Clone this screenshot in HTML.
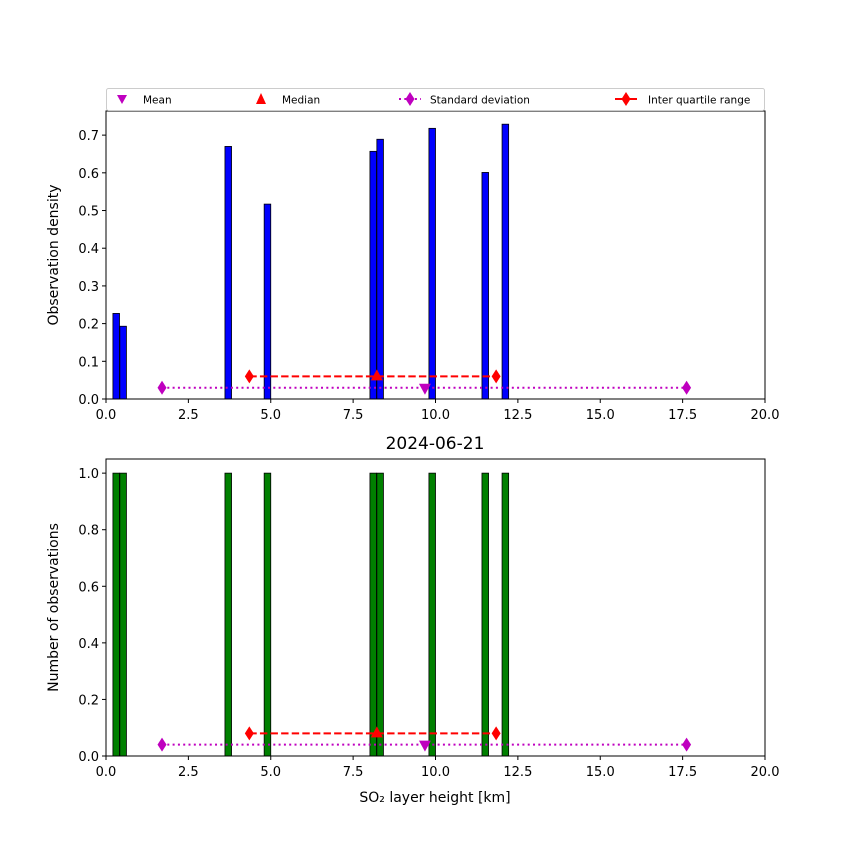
<!DOCTYPE html>
<html><head><meta charset="utf-8"><style>
body{margin:0;background:#fff}
svg text{font-family:"DejaVu Sans","Liberation Sans",sans-serif;fill:#000}
</style></head><body>
<svg id="c" width="850" height="850" xmlns="http://www.w3.org/2000/svg"></svg>
<script>
const binLefts=[0.21,0.42,3.61,4.80,8.01,8.22,9.80,11.41,12.02];
const binWidth=0.2;
const densityValues=[0.227,0.193,0.670,0.517,0.657,0.689,0.718,0.601,0.729];
const countValues=[1,1,1,1,1,1,1,1,1];
const xTicks=[0,2.5,5,7.5,10,12.5,15,17.5,20];
const topYTicks=[0,0.1,0.2,0.3,0.4,0.5,0.6,0.7];
const botYTicks=[0,0.2,0.4,0.6,0.8,1.0];
const meanX=9.68, medianX=8.22;
const stdX=[1.70,17.62];
const iqrX=[4.35,11.84];
const topStatY={mean:0.03,std:0.03,median:0.06,iqr:0.06};
const botStatY={mean:0.04,std:0.04,median:0.08,iqr:0.08};

const svg=document.getElementById('c');
const NS='http://www.w3.org/2000/svg';
function mk(tag,attrs,parent){const e=document.createElementNS(NS,tag);for(const k in attrs)e.setAttribute(k,attrs[k]);(parent||svg).appendChild(e);return e;}
const X0=106,X1=765;
const sx=v=>X0+(v/20)*(X1-X0);

function panel(name,top,bottom,ymax,ticks,vals,color,st,ylabel){
  const g=mk('g',{});
  
  
  const sy=v=>bottom-(v/ymax)*(bottom-top);
  vals.forEach((v,i)=>{
    const r=mk('rect',{x:sx(binLefts[i]),y:sy(v),width:sx(binLefts[i]+binWidth)-sx(binLefts[i]),height:bottom-sy(v),fill:color,stroke:'#000','stroke-width':0.8},g);
    
    
  });
  // std line
  const sl=mk('line',{x1:sx(stdX[0]),x2:sx(stdX[1]),y1:sy(st.std),y2:sy(st.std),stroke:'#bf00bf','stroke-width':2,'stroke-dasharray':'2,3.3'},g);
  
  
  const il=mk('line',{x1:sx(iqrX[0]),x2:sx(iqrX[1]),y1:sy(st.iqr),y2:sy(st.iqr),stroke:'#ff0000','stroke-width':2,'stroke-dasharray':'7.4,3.2'},g);
  
  
  const dia=(x,y,c,n)=>{const p=mk('polygon',{points:`${x},${y-7} ${x+4.5},${y} ${x},${y+7} ${x-4.5},${y}`,fill:c},g);
    
    };
  stdX.forEach((v,i)=>dia(sx(v),sy(st.std),'#bf00bf','std-marker-'+i));
  iqrX.forEach((v,i)=>dia(sx(v),sy(st.iqr),'#ff0000','iqr-marker-'+i));
  let mx=sx(medianX),my=sy(st.median);
  const md=mk('polygon',{points:`${mx},${my-7} ${mx+6},${my+4} ${mx-6},${my+4}`,fill:'#ff0000'},g);
  
  
  mx=sx(meanX);my=sy(st.mean);
  const mn=mk('polygon',{points:`${mx},${my+7} ${mx+6},${my-4} ${mx-6},${my-4}`,fill:'#bf00bf'},g);
  
  
  const fr=mk('rect',{x:X0,y:top,width:X1-X0,height:bottom-top,fill:'none',stroke:'#000','stroke-width':1},g);
  
  
  xTicks.forEach(t=>{
    mk('line',{x1:sx(t),x2:sx(t),y1:bottom,y2:bottom+4,stroke:'#000'},g);
    const tx=mk('text',{x:sx(t),y:bottom+20,'text-anchor':'middle','font-size':13},g);
    tx.textContent=t.toFixed(1);
    
    
  });
  ticks.forEach(t=>{
    mk('line',{x1:X0-4,x2:X0,y1:sy(t),y2:sy(t),stroke:'#000'},g);
    const tx=mk('text',{x:X0-7,y:sy(t)+5,'text-anchor':'end','font-size':13},g);
    tx.textContent=t.toFixed(1);
    
    
  });
  const yl=mk('text',{x:0,y:0,'text-anchor':'middle','font-size':14,transform:`translate(58,${(top+bottom)/2}) rotate(-90)`},g);
  yl.textContent=ylabel;
  
  
}
panel('density-panel',111,399,0.764,topYTicks,densityValues,'#0000ff',topStatY,'Observation density');
panel('count-panel',459,756,1.05,botYTicks,countValues,'#008000',botStatY,'Number of observations');

const title=mk('text',{x:435,y:449,'text-anchor':'middle','font-size':17});
title.textContent='2024-06-21';


const xl=mk('text',{x:435,y:802,'text-anchor':'middle','font-size':14});
xl.textContent='SO₂ layer height [km]';



// legend
const lg=mk('g',{});


mk('rect',{x:106.5,y:88.5,width:658,height:22,fill:'#fff',stroke:'#ccc','stroke-width':1,rx:2},lg);
function ltext(x,s,n){const t=mk('text',{x:x,y:103.5,'font-size':10.5},lg);t.textContent=s;
  
  }
mk('polygon',{points:'117,95 127,95 122,104',fill:'#bf00bf'},lg);
ltext(143,'Mean','legend-mean');
mk('polygon',{points:'261,93 266,104 256,104',fill:'#ff0000'},lg);
ltext(282,'Median','legend-median');
mk('line',{x1:399,x2:421,y1:99,y2:99,stroke:'#bf00bf','stroke-width':2,'stroke-dasharray':'2,3.3'},lg);
mk('polygon',{points:'410,92 414.5,99 410,106 405.5,99',fill:'#bf00bf'},lg);
ltext(430,'Standard deviation','legend-std');
mk('line',{x1:615,x2:637,y1:99,y2:99,stroke:'#ff0000','stroke-width':2},lg);
mk('polygon',{points:'626,92 630.5,99 626,106 621.5,99',fill:'#ff0000'},lg);
ltext(648,'Inter quartile range','legend-iqr');
</script>
</body></html>
